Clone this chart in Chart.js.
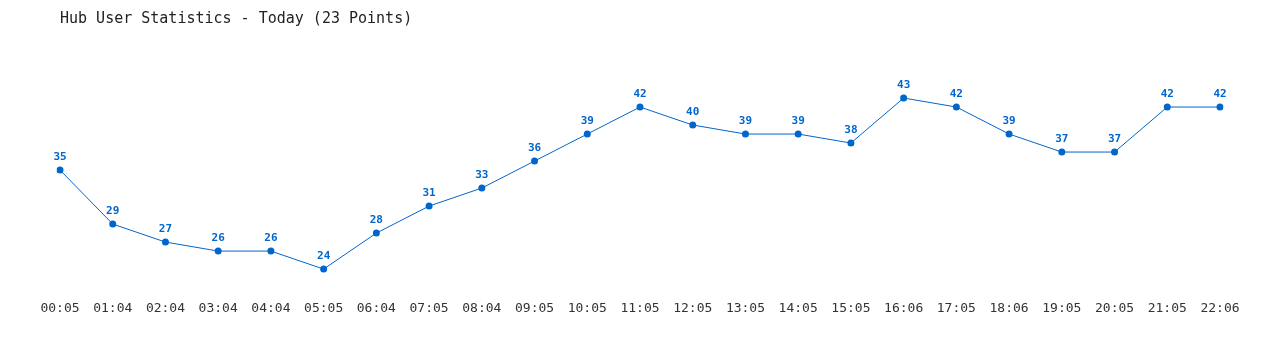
<!DOCTYPE html>
<html>
<head>
<meta charset="utf-8">
<script src="https://cdn.jsdelivr.net/npm/chart.js@4"></script>
<style>
  html, body { margin: 0; padding: 0; background: #fff; }
  #wrap { width: 1280px; height: 350px; position: relative; }
</style>
</head>
<body>
<div id="wrap"><canvas id="c"></canvas></div>
<script>
const titleText = "Hub User Statistics - Today (23 Points)";
const categories = ["00:05","01:04","02:04","03:04","04:04","05:05","06:04","07:05","08:04","09:05","10:05","11:05","12:05","13:05","14:05","15:05","16:06","17:05","18:06","19:05","20:05","21:05","22:06"];
const users = [35,29,27,26,26,24,28,31,33,36,39,42,40,39,39,38,43,42,39,37,37,42,42];

const BLUE = "#0066CC";
const MONO = "'DejaVu Sans Mono', 'Liberation Mono', monospace";

const valueLabels = {
  id: "valueLabels",
  afterDatasetsDraw(chart) {
    const ctx = chart.ctx;
    const meta = chart.getDatasetMeta(0);
    const ds = chart.data.datasets[0].data;
    ctx.save();
    ctx.font = "bold 11px " + MONO;
    ctx.fillStyle = BLUE;
    ctx.textAlign = "center";
    ctx.textBaseline = "middle";
    meta.data.forEach((el, i) => {
      ctx.fillText(String(ds[i]), el.x, el.y - 13);
    });
    ctx.restore();
  }
};

new Chart(document.getElementById("c"), {
  type: "line",
  data: {
    labels: categories,
    datasets: [{
      data: users,
      borderColor: BLUE,
      backgroundColor: BLUE,
      borderWidth: 1,
      pointRadius: 3.5,
      pointHoverRadius: 3.5,
      pointBackgroundColor: BLUE,
      pointBorderWidth: 0,
      tension: 0,
      fill: false
    }]
  },
  options: {
    responsive: true,
    maintainAspectRatio: false,
    animation: false,
    layout: { padding: { left: 60, right: 60, top: 0, bottom: 28.3 } },
    plugins: {
      legend: { display: false },
      tooltip: { enabled: false },
      title: {
        display: true,
        text: titleText,
        align: "start",
        color: "#222",
        font: { family: MONO, size: 15, weight: "normal" },
        padding: { top: 10, bottom: 25 }
      }
    },
    scales: {
      x: {
        offset: false,
        grid: { display: false, drawTicks: false },
        border: { display: false },
        ticks: {
          color: "#333",
          font: { family: MONO, size: 13 },
          padding: 5,
          maxRotation: 0,
          autoSkip: false
        }
      },
      y: {
        display: false,
        min: 21,
        max: 48
      }
    }
  },
  plugins: [valueLabels]
});
</script>
</body>
</html>
